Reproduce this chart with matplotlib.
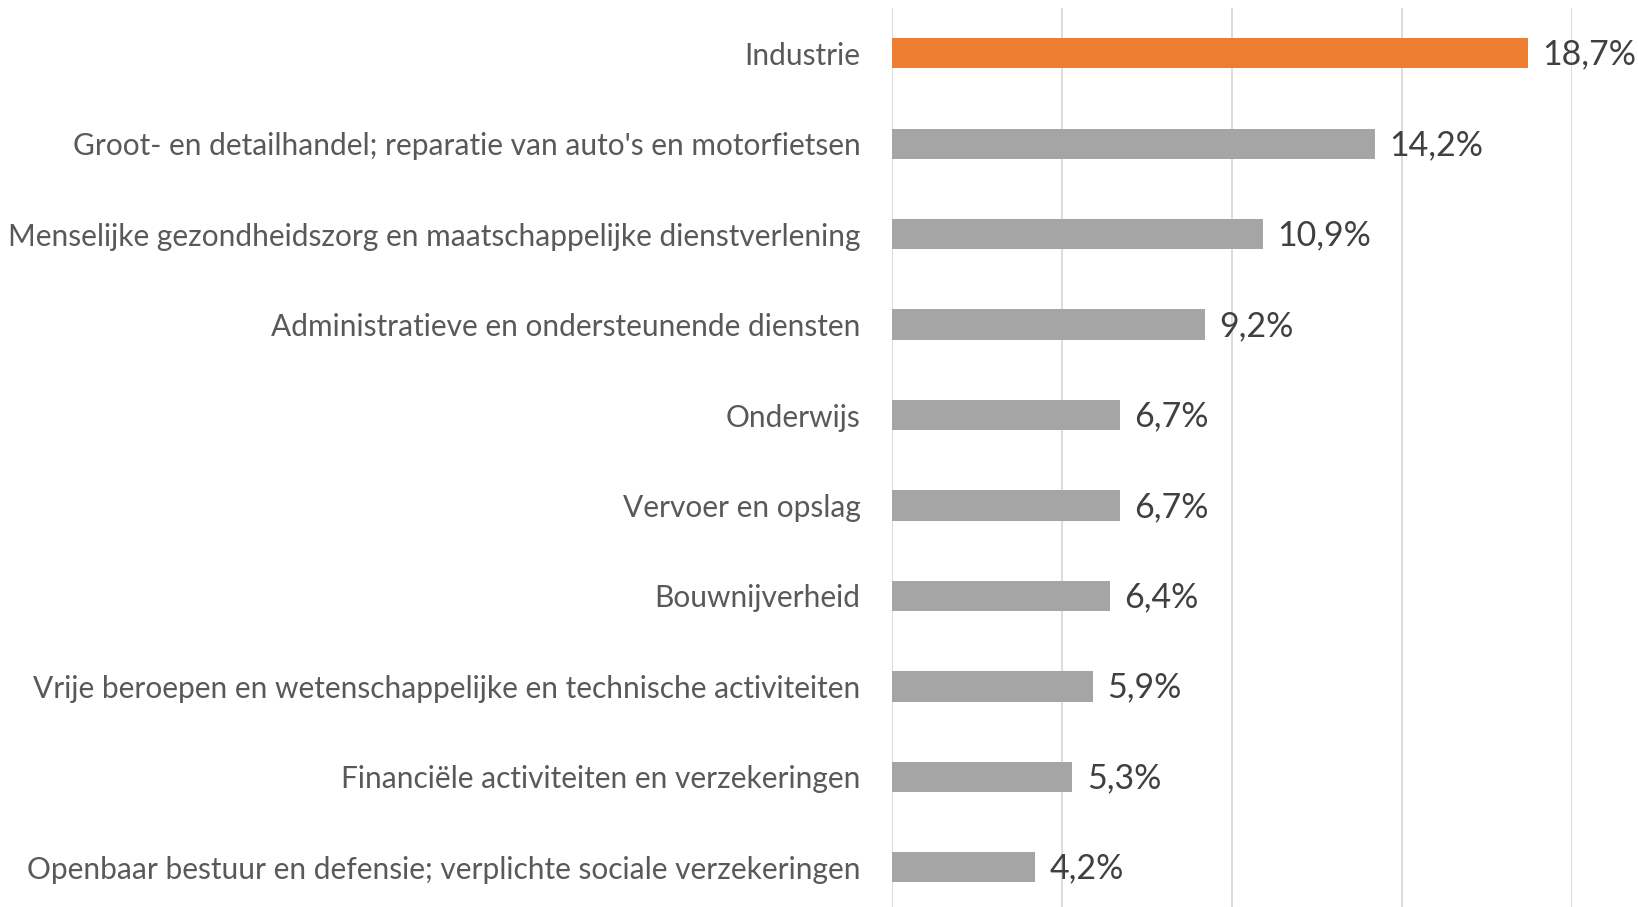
import matplotlib
matplotlib.use("Agg")
import matplotlib.pyplot as plt

categories = [
    "Industrie",
    "Groot- en detailhandel; reparatie van auto's en motorfietsen",
    "Menselijke gezondheidszorg en maatschappelijke dienstverlening",
    "Administratieve en ondersteunende diensten",
    "Onderwijs",
    "Vervoer en opslag",
    "Bouwnijverheid",
    "Vrije beroepen en wetenschappelijke en technische activiteiten",
    "Financiële activiteiten en verzekeringen",
    "Openbaar bestuur en defensie; verplichte sociale verzekeringen",
]
values = [18.7, 14.2, 10.9, 9.2, 6.7, 6.7, 6.4, 5.9, 5.3, 4.2]
value_labels = ["18,7%", "14,2%", "10,9%", "9,2%", "6,7%", "6,7%", "6,4%", "5,9%", "5,3%", "4,2%"]
highlight = "Industrie"

plt.rcParams['font.family'] = ['Lato', 'DejaVu Sans']

fig = plt.figure(figsize=(16.38, 9.07), dpi=100)
ax = fig.add_axes([892/1638, -5.5/907, (1572-892)/1638, (912.5-8)/907])

colors = ["#ED7D31" if c == highlight else "#A5A5A5" for c in categories]
ypos = list(range(len(categories)))
ax.barh(ypos, values, height=0.335, color=colors, zorder=3)
ax.set_ylim(len(categories) - 0.5, -0.5)
ax.set_xlim(0, 20)
ax.set_xticks([0, 5, 10, 15, 20])
ax.xaxis.grid(True, color="#D9D9D9", linewidth=1.3, zorder=0)
ax.tick_params(axis='x', bottom=False, labelbottom=False)
ax.tick_params(axis='y', left=False, pad=19, labelsize=21.5, labelcolor="#595959")
ax.set_yticks(ypos)
ax.set_yticklabels(categories)
for s in ax.spines.values():
    s.set_visible(False)

for y, v, lab in zip(ypos, values, value_labels):
    ax.annotate(lab, xy=(v, y), xytext=(10.5, -1), textcoords="offset points",
                va="center", ha="left", fontsize=24.5, color="#404040")

fig.savefig("out.png", dpi=100)
